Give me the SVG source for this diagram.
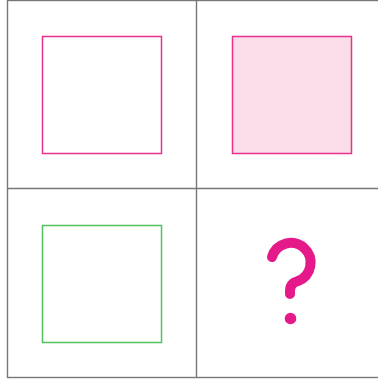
<svg xmlns="http://www.w3.org/2000/svg" width="378" height="383" viewBox="0 0 378 383">
  <style>
    .grid { fill: none; stroke: #777777; stroke-width: 1.4; }
    .pink { stroke: #e8308f; stroke-width: 1.5; }
    .green { fill: none; stroke: #52c35e; stroke-width: 1.5; }
    .q { fill: none; stroke: #e6198a; stroke-width: 10; stroke-linecap: round; stroke-linejoin: round; }
  </style>
  <rect width="378" height="383" fill="#ffffff"/>
  <g id="connectors">
    <rect class="grid" x="7.5" y="0.5" width="378" height="377"/>
    <line class="grid" x1="196.5" y1="0.5" x2="196.5" y2="377.5"/>
    <line class="grid" x1="7.5" y1="188.5" x2="385.5" y2="188.5"/>
  </g>
  <g id="cell-top-left">
    <rect class="pink" x="42.5" y="36.5" width="119" height="117" fill="none"/>
  </g>
  <g id="cell-top-right">
    <rect class="pink" x="232.5" y="36.5" width="119" height="117" fill="#fadde8"/>
  </g>
  <g id="cell-bottom-left">
    <rect class="green" x="42.5" y="225.5" width="119" height="117"/>
  </g>
  <g id="cell-bottom-right">
    <path class="q" d="M272,257 A19.7,19.7 0 1 1 298,281 Q290,283 290,291 L290,294"/>
    <circle cx="290.5" cy="318.5" r="5.8" fill="#e6198a"/>
  </g>
</svg>
